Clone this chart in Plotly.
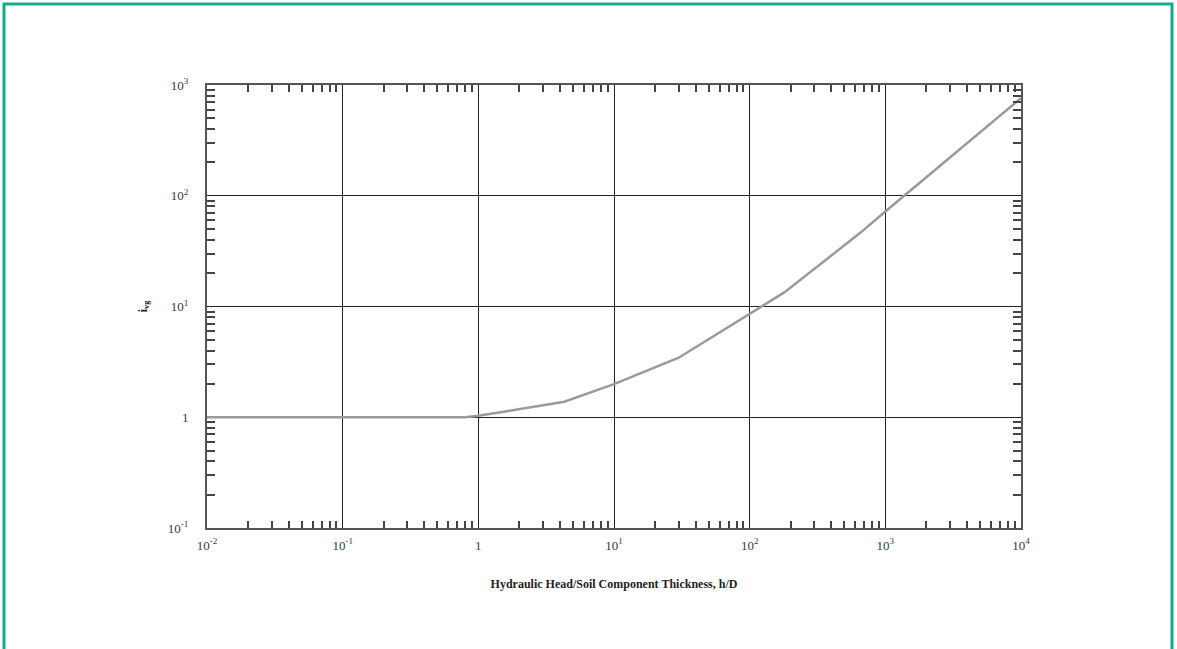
import plotly.graph_objects as go

# curve (log-log)
h_over_d = [0.01, 0.8, 1, 4.3, 10, 30, 180, 650, 1000, 10000]
i_vg = [1, 1, 1.03, 1.38, 1.99, 3.45, 13.4, 46, 72, 760]

x_tickvals = [0.01, 0.1, 1, 10, 100, 1000, 10000]
x_ticktext = ["10<sup>-2</sup>", "10<sup>-1</sup>", "1", "10<sup>1</sup>",
              "10<sup>2</sup>", "10<sup>3</sup>", "10<sup>4</sup>"]
y_tickvals = [0.1, 1, 10, 100, 1000]
y_ticktext = ["10<sup>-1</sup>", "1", "10<sup>1</sup>", "10<sup>2</sup>", "10<sup>3</sup>"]


def minor_vals(decades):
    return [d * k for d in decades[:-1] for k in range(2, 10)]


serif = "Liberation Serif, Times New Roman, serif"

fig = go.Figure()
fig.add_trace(go.Scatter(x=h_over_d, y=i_vg, mode="lines",
                         line=dict(color="#9a9a9a", width=2.5), showlegend=False))

axis_common = dict(
    type="log", showline=True, linecolor="#555", linewidth=2, mirror="allticks",
    showgrid=True, gridcolor="#222", gridwidth=1, zeroline=False,
    ticks="", tickfont=dict(family=serif, size=13, color="#3a3a3a"),
)

fig.update_xaxes(range=[-2, 4], tickmode="array", tickvals=x_tickvals,
                 ticktext=x_ticktext, ticklabelstandoff=4,
                 minor=dict(tickmode="array", tickvals=minor_vals(x_tickvals),
                            ticks="inside", ticklen=7, tickcolor="#444",
                            tickwidth=1.5, showgrid=False),
                 title=dict(text="<b>Hydraulic Head/Soil Component Thickness, h/D</b>",
                            font=dict(family=serif, size=12, color="#222"), standoff=28),
                 **axis_common)
fig.update_yaxes(range=[-1, 3], tickmode="array", tickvals=y_tickvals,
                 ticktext=y_ticktext, ticklabelstandoff=14,
                 minor=dict(tickmode="array", tickvals=minor_vals(y_tickvals),
                            ticks="inside", ticklen=8, tickcolor="#444",
                            tickwidth=1.5, showgrid=False),
                 title=dict(text="<b>i<sub>vg</sub></b>",
                            font=dict(family=serif, size=12, color="#222"), standoff=18),
                 **axis_common)

# teal frame round the page
fig.add_shape(type="rect", xref="paper", yref="paper",
              x0=(4 - 207) / 814, x1=(1172 - 207) / 814,
              y0=(528 - 680) / 443, y1=(528 - 4) / 443,
              line=dict(color="#12ad8c", width=3), layer="below")

fig.update_layout(
    width=1177, height=649,
    margin=dict(l=207, r=156, t=85, b=121),
    plot_bgcolor="white", paper_bgcolor="white",
    font=dict(family=serif),
)

fig.write_html("out.html", config={"displayModeBar": False},
               post_script="document.body.style.margin='0';")
